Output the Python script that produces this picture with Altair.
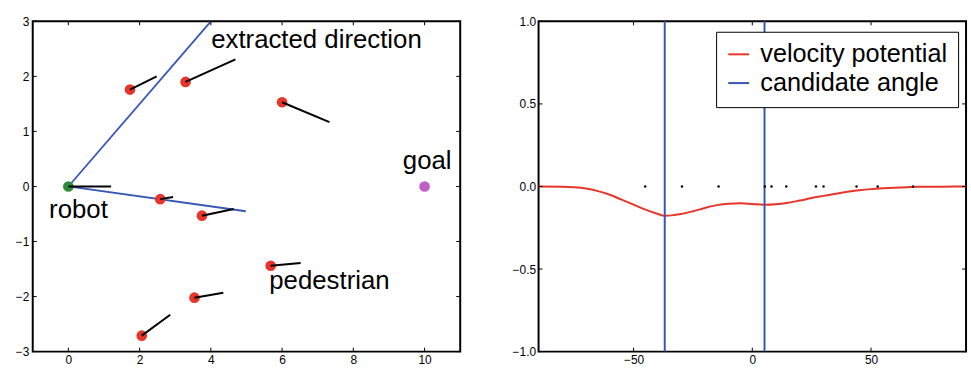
import altair as alt
import pandas as pd

# ---------------- data: left panel ----------------
ped_x = [1.73, 3.29, 6.00, 2.58, 3.75, 5.68, 3.54, 2.06]
ped_y = [1.76, 1.90, 1.53, -0.23, -0.53, -1.44, -2.02, -2.71]
ped_vx_end = [2.48, 4.69, 7.33, 2.94, 4.64, 6.52, 4.35, 2.86]
ped_vy_end = [2.00, 2.31, 1.17, -0.19, -0.41, -1.39, -1.93, -2.33]
robot_pos = [0.0, 0.0]
robot_vel_end = [1.2, 0.0]
goal_pos = [10.0, 0.0]
dir_end_x = [4.0, 4.98]
dir_end_y = [3.0, -0.45]
label_text = ["extracted direction", "goal", "robot", "pedestrian"]
label_x = [4.01, 9.39, -0.54, 5.64]
label_y = [2.51, 0.32, -0.58, -1.86]
left_xticks = [0, 2, 4, 6, 8, 10]
left_yticks = [-3, -2, -1, 0, 1, 2, 3]

# ---------------- data: right panel ----------------
angle = [-90, -80, -75, -70, -65, -60, -55, -50, -45, -40, -37, -34, -30, -25,
         -20, -15, -10, -5, 0, 5, 10, 15, 20, 25, 30, 35, 40, 45, 50, 55, 60,
         65, 70, 80, 90]
potential = [0.0, -0.001, -0.004, -0.012, -0.028, -0.05, -0.08, -0.11, -0.14,
             -0.165, -0.177, -0.175, -0.167, -0.15, -0.13, -0.113, -0.104,
             -0.102, -0.106, -0.111, -0.108, -0.099, -0.085, -0.07, -0.057,
             -0.044, -0.032, -0.023, -0.016, -0.011, -0.007, -0.004, -0.002,
             -0.001, 0.0]
cand_angles = [-36.87, 5.14]
ped_angles = [-45.1, -29.6, -14.2, 5.3, 8.1, 14.3, 26.8, 30.0, 43.9, 52.8, 67.7]
right_xticks = [-50, 0, 50]
right_yticks = [-1.0, -0.5, 0.0, 0.5, 1.0]

RED = "#e8352a"
BLUE = "#3556b5"
GREEN = "#2e8b3e"
GOAL = "#c15ec6"
FONT = "Liberation Sans"
W, H = 431, 333
TL = 4  # inward tick length

# ---------------- left panel ----------------
def lx(field):
    return alt.X(field, type="quantitative",
                 scale=alt.Scale(domain=[-1, 11], nice=False, zero=False),
                 axis=alt.Axis(values=left_xticks, title=None, labelFlush=False,
                               labelOverlap=False, labelPadding=3))

def ly(field):
    return alt.Y(field, type="quantitative",
                 scale=alt.Scale(domain=[-3, 3], nice=False, zero=False),
                 axis=alt.Axis(values=left_yticks, title=None, labelOverlap=False,
                               labelPadding=4))

peds = pd.DataFrame({"x": ped_x, "y": ped_y, "x2": ped_vx_end, "y2": ped_vy_end})
robot = pd.DataFrame({"x": [robot_pos[0]], "y": [robot_pos[1]],
                      "x2": [robot_vel_end[0]], "y2": [robot_vel_end[1]]})
goal = pd.DataFrame({"x": [goal_pos[0]], "y": [goal_pos[1]]})
dirs = pd.DataFrame({"x": [robot_pos[0]] * 2, "y": [robot_pos[1]] * 2,
                     "x2": dir_end_x, "y2": dir_end_y})
labels = pd.DataFrame({"t": label_text, "x": label_x, "y": label_y})
lxt = pd.DataFrame({"v": left_xticks})
lyt = pd.DataFrame({"v": left_yticks})

dir_lines = alt.Chart(dirs).mark_rule(color=BLUE, strokeWidth=1.8, clip=True).encode(
    x=lx("x"), y=ly("y"), x2="x2", y2="y2")
ped_dots = alt.Chart(peds).mark_circle(color=RED, size=115, opacity=1).encode(
    x=lx("x"), y=ly("y"))
ped_vel = alt.Chart(peds).mark_rule(color="black", strokeWidth=2).encode(
    x=lx("x"), y=ly("y"), x2="x2", y2="y2")
robot_dot = alt.Chart(robot).mark_circle(color=GREEN, size=115, opacity=1).encode(
    x=lx("x"), y=ly("y"))
robot_vel = alt.Chart(robot).mark_rule(color="black", strokeWidth=2).encode(
    x=lx("x"), y=ly("y"), x2="x2", y2="y2")
goal_dot = alt.Chart(goal).mark_circle(color=GOAL, size=115, opacity=1).encode(
    x=lx("x"), y=ly("y"))
texts = alt.Chart(labels).mark_text(align="left", baseline="alphabetic",
                                    fontSize=26, font=FONT, color="black").encode(
    x=lx("x"), y=ly("y"), text="t:N")

lt_bottom = alt.Chart(lxt).mark_rule(color="black", strokeWidth=1).encode(
    x=lx("v"), y=alt.value(H), y2=alt.value(H - TL))
lt_top = alt.Chart(lxt).mark_rule(color="black", strokeWidth=1).encode(
    x=lx("v"), y=alt.value(0), y2=alt.value(TL))
lt_left = alt.Chart(lyt).mark_rule(color="black", strokeWidth=1).encode(
    y=ly("v"), x=alt.value(0), x2=alt.value(TL))
lt_right = alt.Chart(lyt).mark_rule(color="black", strokeWidth=1).encode(
    y=ly("v"), x=alt.value(W), x2=alt.value(W - TL))

left = alt.layer(dir_lines, ped_dots, ped_vel, robot_dot, robot_vel, goal_dot,
                 texts, lt_bottom, lt_top, lt_left, lt_right).properties(
    width=W, height=H)

# ---------------- right panel ----------------
def rx(field):
    return alt.X(field, type="quantitative",
                 scale=alt.Scale(domain=[-90, 90], nice=False, zero=False),
                 axis=alt.Axis(values=right_xticks, title=None, labelFlush=False,
                               labelOverlap=False, labelPadding=3))

def ry(field):
    return alt.Y(field, type="quantitative",
                 scale=alt.Scale(domain=[-1, 1], nice=False, zero=False),
                 axis=alt.Axis(values=right_yticks, title=None, format=".1f",
                               labelOverlap=False, labelPadding=3))

SERIES = ["velocity potential", "candidate angle"]
color = alt.Color("series:N",
                  scale=alt.Scale(domain=SERIES, range=[RED, BLUE]),
                  legend=alt.Legend(orient="none", legendX=689, legendY=10.5,
                                    title=None, labelFontSize=25.5, labelFont=FONT,
                                    labelColor="black", symbolType="stroke",
                                    symbolStrokeWidth=2, symbolSize=441,
                                    strokeColor="black", fillColor="white",
                                    padding=10, rowPadding=2, labelOffset=9,
                                    labelLimit=400, cornerRadius=0))

curve_df = pd.DataFrame({"a": angle, "p": potential, "series": SERIES[0]})
cand_df = pd.DataFrame({"a": cand_angles, "series": SERIES[1]})
pa_df = pd.DataFrame({"a": ped_angles, "p": [0.0] * len(ped_angles)})
rxt = pd.DataFrame({"v": right_xticks})
ryt = pd.DataFrame({"v": right_yticks})

curve = alt.Chart(curve_df).mark_line(strokeWidth=2, interpolate="monotone").encode(
    x=rx("a"), y=ry("p"), color=color)
cand = alt.Chart(cand_df).mark_rule(strokeWidth=2).encode(x=rx("a"), color=color)
pdots = alt.Chart(pa_df).mark_circle(color="black", size=6, opacity=1).encode(
    x=rx("a"), y=ry("p"))

rt_bottom = alt.Chart(rxt).mark_rule(color="black", strokeWidth=1).encode(
    x=rx("v"), y=alt.value(H), y2=alt.value(H - TL))
rt_top = alt.Chart(rxt).mark_rule(color="black", strokeWidth=1).encode(
    x=rx("v"), y=alt.value(0), y2=alt.value(TL))
rt_left = alt.Chart(ryt).mark_rule(color="black", strokeWidth=1).encode(
    y=ry("v"), x=alt.value(0), x2=alt.value(TL))
rt_right = alt.Chart(ryt).mark_rule(color="black", strokeWidth=1).encode(
    y=ry("v"), x=alt.value(W), x2=alt.value(W - TL))

right = alt.layer(curve, cand, pdots, rt_bottom, rt_top, rt_left, rt_right).properties(
    width=W, height=H)

chart = alt.hconcat(left, right, spacing=49).properties(
    padding={"left": 14, "top": 13, "right": 0, "bottom": 0}
).configure_view(
    stroke="black", strokeWidth=2
).configure_axis(
    grid=False, domain=False, ticks=False, tickSize=0, labelPadding=5,
    labelFont=FONT, labelFontSize=12, labelColor="black"
)

chart.save("out.html", embed_options={"renderer": "svg", "actions": False})
